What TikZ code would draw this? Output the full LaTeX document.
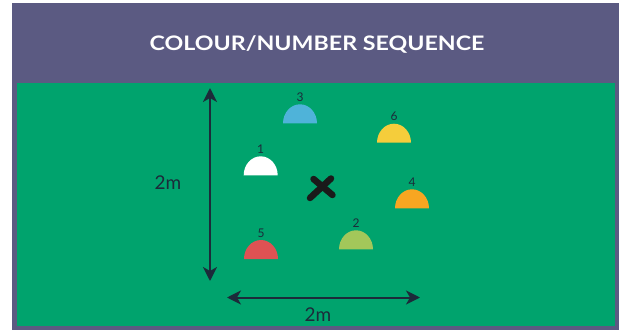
\documentclass[tikz,border=0pt]{standalone}
\usepackage{fontspec}
\setmainfont{Lato}
\newfontfamily\titlefont{Lato}[FakeStretch=1.16]
\usetikzlibrary{arrows.meta}
\definecolor{frame}{HTML}{5B5A82}
\definecolor{field}{HTML}{00A36D}
\definecolor{navy}{HTML}{1C2B3A}
\definecolor{cblue}{HTML}{4FB3D9}
\definecolor{cyellow}{HTML}{F5CD3B}
\definecolor{corange}{HTML}{F8A621}
\definecolor{clime}{HTML}{A3C75A}
\definecolor{cred}{HTML}{DF5253}
\definecolor{xmark}{HTML}{1A1A1A}
\newcommand{\mycone}[5]{%
  \fill[#3] (#1-17,#2) arc[start angle=180,end angle=360,x radius=17,y radius=19] -- cycle;
  \node[numlbl] (#5) at (#1,#2-26) {#4};}
\begin{document}
\begin{tikzpicture}[x=1pt,y=-1pt,
  numlbl/.style={font=\fontsize{12}{12}\selectfont,text=navy,inner sep=0pt},
  dimlbl/.style={font=\fontsize{19}{19}\selectfont,text=navy,inner sep=0pt},
  dimarrow/.style={navy,line width=2pt,{Stealth[length=14pt,width=14pt,inset=4pt]}-{Stealth[length=14pt,width=14pt,inset=4pt]}},
  xstroke/.style={xmark,line width=6.5pt,line cap=round}]
\useasboundingbox (0,0) rectangle (625,332);
\fill[white] (0,0) rectangle (625,332);
\fill[frame] (12,3) rectangle (619,330);
\fill[field] (17,83) rectangle (615,326);
\node[font=\titlefont\bfseries\fontsize{20}{20}\selectfont,text=white,inner sep=0pt] (title) at (317,44) {COLOUR/NUMBER SEQUENCE};
% dimension arrows
\coordinate (vtop) at (210,88);
\coordinate (vbot) at (210,281);
\coordinate (hleft) at (227,297.5);
\coordinate (hright) at (420,297.5);
\draw[dimarrow] (vtop) -- (vbot);
\draw[dimarrow] (hleft) -- (hright);
\node[dimlbl] (lblv) at (168,183) {2m};
\node[dimlbl] (lblh) at (318,315) {2m};
% cones
\mycone{300}{123.3}{cblue}{3}{n3}
\mycone{394}{142.7}{cyellow}{6}{n6}
\mycone{260.7}{175.3}{white}{1}{n1}
\mycone{412}{208.3}{corange}{4}{n4}
\mycone{356}{249.3}{clime}{2}{n2}
\mycone{261}{259}{cred}{5}{n5}
% cross
\draw[xstroke] (313.5,179) -- (332.5,195);
\draw[xstroke] (310,198) -- (331,178.5);
\end{tikzpicture}
\end{document}
